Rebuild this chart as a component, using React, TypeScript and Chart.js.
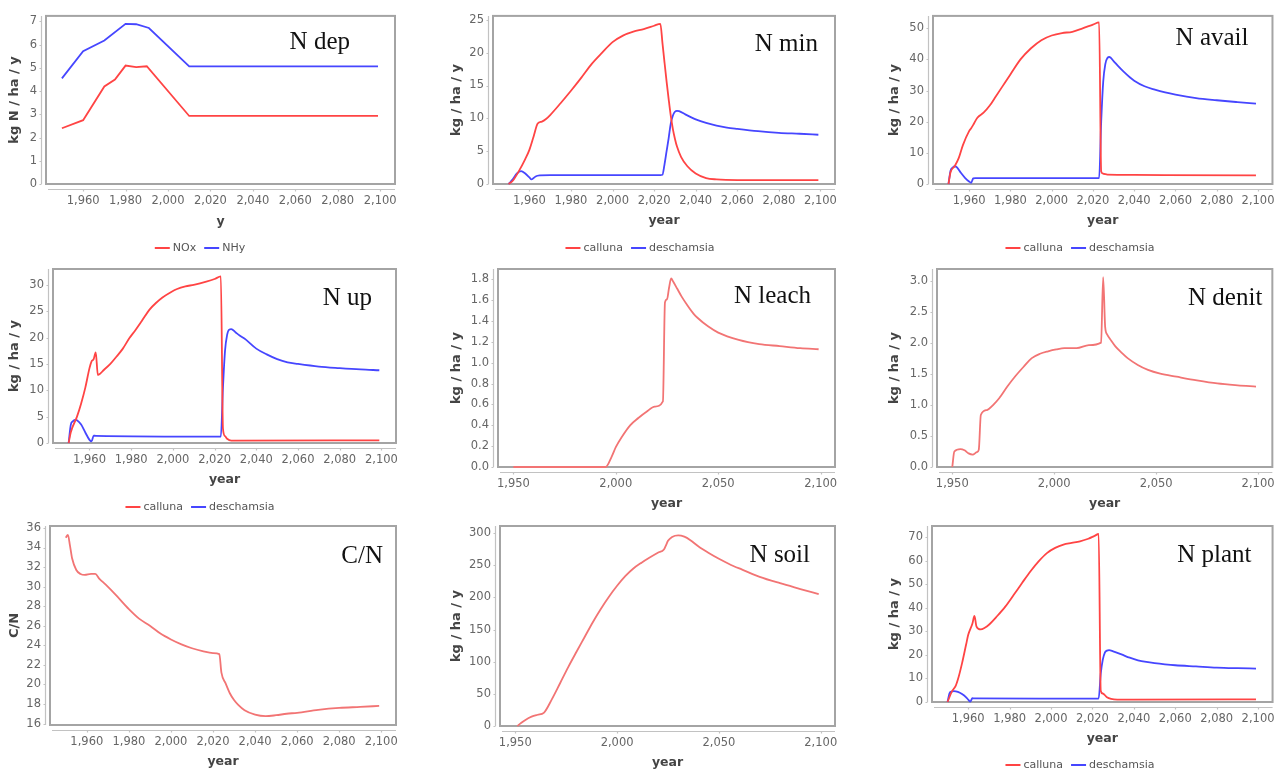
import React, { useEffect, useRef } from "react";
import { Chart, registerables } from "chart.js";
Chart.register(...registerables);

const PAGE_W = 1285;
const PAGE_H = 771;
const SANS = '"DejaVu Sans", sans-serif';
const SERIF = '"Liberation Serif", serif';
const RED = "#ff4444";
const BLUE = "#4646ff";
const PINK = "#f27474";

// ---------- tick labels ----------
const X_TICKS_20 = [1960, 1980, 2000, 2020, 2040, 2060, 2080, 2100];
const X_TICKS_50 = [1950, 2000, 2050, 2100];
const NDEP_Y_TICKS = [0, 1, 2, 3, 4, 5, 6, 7];
const NMIN_Y_TICKS = [0, 5, 10, 15, 20, 25];
const NAVAIL_Y_TICKS = [0, 10, 20, 30, 40, 50];
const NUP_Y_TICKS = [0, 5, 10, 15, 20, 25, 30];
const NLEACH_Y_TICKS = [0, 0.2, 0.4, 0.6, 0.8, 1.0, 1.2, 1.4, 1.6, 1.8];
const NDENIT_Y_TICKS = [0, 0.5, 1.0, 1.5, 2.0, 2.5, 3.0];
const CN_Y_TICKS = [16, 18, 20, 22, 24, 26, 28, 30, 32, 34, 36];
const NSOIL_Y_TICKS = [0, 50, 100, 150, 200, 250, 300];
const NPLANT_Y_TICKS = [0, 10, 20, 30, 40, 50, 60, 70];

// ---------- N dep ----------
const NOX_X = [1950, 1960, 1970, 1975, 1980, 1985, 1990, 2010, 2099];
const NOX_Y = [2.4, 2.75, 4.2, 4.5, 5.1, 5.03, 5.07, 2.93, 2.93];
const NHY_X = [1950, 1960, 1970, 1980, 1985, 1991, 2010, 2099];
const NHY_Y = [4.55, 5.72, 6.18, 6.9, 6.88, 6.72, 5.07, 5.07];

// ---------- N min ----------
const CALLUNA_MIN_X = [1950, 1952, 1955, 1958, 1960, 1962, 1964, 1966, 1968, 1970, 1975, 1980, 1985, 1990, 1995, 2000, 2005, 2010, 2015, 2020, 2023, 2024, 2025, 2026, 2027, 2028, 2029, 2030, 2031, 2033, 2036, 2040, 2045, 2050, 2060, 2099];
const CALLUNA_MIN_Y = [0, 0.5, 2.0, 3.8, 5.2, 7.2, 9.2, 9.5, 9.9, 10.5, 12.3, 14.2, 16.2, 18.3, 20.0, 21.6, 22.6, 23.2, 23.6, 24.1, 24.4, 21.5, 18.5, 15.6, 12.9, 10.4, 8.4, 6.9, 5.7, 4.1, 2.7, 1.6, 0.9, 0.7, 0.6, 0.6];
const DESCH_MIN_X = [1950, 1952, 1954, 1956, 1958, 1960, 1961, 1962, 1963, 1965, 1970, 2023, 2024, 2025, 2026, 2027, 2028, 2029, 2030, 2031, 2032, 2035, 2040, 2045, 2050, 2055, 2060, 2070, 2080, 2090, 2099];
const DESCH_MIN_Y = [0, 0.7, 1.6, 1.95, 1.6, 1.0, 0.7, 0.9, 1.15, 1.3, 1.35, 1.35, 1.4, 3.0, 5.0, 7.0, 9.2, 10.4, 11.0, 11.15, 11.1, 10.6, 9.85, 9.3, 8.9, 8.6, 8.4, 8.05, 7.8, 7.65, 7.5];

// ---------- N avail ----------
const CALLUNA_AVAIL_X = [1950, 1951, 1953, 1955, 1957, 1960, 1961, 1962, 1964, 1967, 1970, 1973, 1976, 1980, 1985, 1990, 1995, 2000, 2005, 2010, 2015, 2020, 2023, 2024, 2025, 2027, 2040, 2099];
const CALLUNA_AVAIL_Y = [0, 3.8, 5.7, 8.4, 12.5, 17.0, 17.9, 19.0, 21.3, 22.9, 25.2, 28.2, 31.2, 35.2, 40.1, 43.6, 46.2, 47.7, 48.5, 48.9, 50.0, 51.2, 51.9, 4.0, 3.3, 3.0, 2.9, 2.8];
const DESCH_AVAIL_X = [1950, 1951, 1952, 1953, 1954, 1956, 1958, 1960, 1961, 1962, 1963, 2023, 2024, 2025, 2026, 2027, 2028, 2030, 2032, 2035, 2038, 2040, 2045, 2050, 2055, 2060, 2070, 2080, 2090, 2099];
const DESCH_AVAIL_Y = [0, 4.3, 5.3, 5.7, 5.4, 3.6, 2.0, 0.8, 0.4, 1.8, 1.9, 1.9, 20, 33, 38.5, 40.5, 40.8, 39.5, 38, 36, 34.2, 33.2, 31.4, 30.3, 29.4, 28.7, 27.6, 26.9, 26.3, 25.8];

// ---------- N up ----------
const CALLUNA_UP_X = [1950, 1951, 1954, 1956, 1958, 1960, 1961, 1962, 1963, 1964, 1967, 1970, 1973, 1976, 1979, 1982, 1985, 1989, 1992, 1995, 1999, 2002, 2006, 2010, 2016, 2020, 2023, 2024, 2025, 2026, 2028, 2099];
const CALLUNA_UP_Y = [0, 2.0, 5.0, 7.5, 10.5, 14.2, 15.5, 15.9, 17.2, 12.9, 13.9, 15.0, 16.4, 17.9, 19.8, 21.4, 23.1, 25.4, 26.6, 27.6, 28.6, 29.2, 29.7, 30.0, 30.6, 31.1, 31.6, 2.8, 1.3, 0.8, 0.45, 0.5];
const DESCH_UP_X = [1950, 1951, 1952, 1953, 1954, 1956, 1958, 1960, 1961, 1962, 1963, 2023, 2024, 2025, 2026, 2027, 2028, 2030, 2032, 2035, 2040, 2045, 2050, 2055, 2060, 2070, 2080, 2090, 2099];
const DESCH_UP_Y = [0, 3.4, 4.1, 4.4, 4.3, 3.5, 2.0, 0.6, 0.3, 1.4, 1.35, 1.2, 10.4, 17.5, 20.5, 21.5, 21.6, 21.0, 20.4, 19.6, 17.9, 16.8, 15.9, 15.3, 15.0, 14.5, 14.2, 13.95, 13.8];

// ---------- N leach ----------
const LEACH_X = [1950, 1995, 1998, 2000, 2003, 2007, 2011, 2015, 2019, 2023, 2024, 2025, 2026, 2027, 2028, 2030, 2032, 2035, 2038, 2040, 2045, 2050, 2060, 2070, 2080, 2090, 2099];
const LEACH_Y = [0, 0, 0.1, 0.19, 0.29, 0.4, 0.47, 0.53, 0.58, 0.63, 1.58, 1.61, 1.72, 1.81, 1.78, 1.71, 1.64, 1.55, 1.47, 1.43, 1.35, 1.29, 1.22, 1.18, 1.16, 1.14, 1.13];

// ---------- N denit ----------
const DENIT_X = [1950, 1951, 1954, 1956, 1958, 1960, 1962, 1963, 1964, 1967, 1970, 1973, 1977, 1981, 1985, 1989, 1993, 1997, 2001, 2005, 2011, 2017, 2023, 2024, 2025, 2026, 2028, 2030, 2033, 2036, 2041, 2046, 2052, 2060, 2070, 2080, 2090, 2099];
const DENIT_Y = [0, 0.25, 0.29, 0.27, 0.22, 0.2, 0.24, 0.28, 0.84, 0.92, 1.0, 1.11, 1.3, 1.47, 1.62, 1.76, 1.83, 1.87, 1.9, 1.92, 1.92, 1.97, 2.01, 3.07, 2.26, 2.14, 2.04, 1.95, 1.85, 1.76, 1.65, 1.57, 1.51, 1.46, 1.4, 1.35, 1.32, 1.3];

// ---------- C/N ----------
const CN_X = [1950, 1951, 1952, 1953, 1955, 1957, 1959, 1962, 1964, 1966, 1969, 1974, 1980, 1985, 1990, 1995, 2000, 2005, 2010, 2015, 2020, 2023, 2024, 2026, 2028, 2030, 2032, 2035, 2040, 2045, 2050, 2055, 2060, 2070, 2080, 2090, 2099];
const CN_Y = [35.0, 35.3, 34.2, 32.9, 31.7, 31.3, 31.2, 31.3, 31.3, 30.8, 30.2, 29.1, 27.7, 26.7, 26.0, 25.2, 24.6, 24.1, 23.7, 23.4, 23.2, 23.1, 21.2, 20.1, 19.1, 18.4, 17.9, 17.35, 16.9, 16.75, 16.85, 17.0, 17.1, 17.4, 17.6, 17.7, 17.8];

// ---------- N soil ----------
const SOIL_X = [1951, 1953, 1955, 1958, 1961, 1964, 1968, 1972, 1976, 1980, 1984, 1988, 1992, 1996, 2000, 2004, 2008, 2012, 2016, 2020, 2023, 2024, 2025, 2027, 2030, 2033, 2036, 2040, 2045, 2050, 2055, 2060, 2070, 2080, 2090, 2099];
const SOIL_Y = [0, 5, 9.5, 14.5, 17.5, 20.5, 41.8, 66.5, 91.5, 115, 138, 161, 182, 201, 218, 233, 245, 254, 262, 269.5, 274.5, 281, 288, 294, 296.5, 294.5, 289, 279, 269, 260, 252, 245, 232, 222, 213, 205];

// ---------- N plant ----------
const CALLUNA_PLANT_X = [1950, 1952, 1954, 1955, 1957, 1959, 1960, 1962, 1963, 1964, 1966, 1968, 1970, 1974, 1978, 1982, 1986, 1990, 1994, 1998, 2002, 2006, 2010, 2014, 2018, 2021, 2023, 2024, 2025, 2027, 2029, 2032, 2099];
const CALLUNA_PLANT_Y = [0, 4.3, 7.0, 9.5, 16.4, 24.5, 28.5, 33.2, 36.5, 32.0, 30.8, 31.5, 32.8, 36.5, 40.6, 45.5, 50.5, 55.4, 59.7, 63.2, 65.4, 66.8, 67.5, 68.2, 69.3, 70.5, 71.3, 4.8, 3.6, 2.0, 1.3, 1.0, 1.1];
const DESCH_PLANT_X = [1950, 1951, 1952, 1953, 1955, 1957, 1959, 1960, 1961, 1962, 1963, 2023, 2024, 2025, 2026, 2027, 2028, 2030, 2034, 2038, 2042, 2046, 2050, 2055, 2060, 2070, 2080, 2090, 2099];
const DESCH_PLANT_Y = [0, 3.8, 4.4, 4.6, 4.3, 3.4, 2.0, 1.0, 0.2, 1.6, 1.5, 1.45, 12, 18, 21, 21.8, 22.0, 21.5, 20.2, 18.8, 17.7, 17.0, 16.5, 16.0, 15.6, 15.1, 14.6, 14.35, 14.2];

// ---------- panel layout ----------
type Series = { label: string; xs: number[]; ys: number[]; color: string };
type Panel = {
  id: string;
  title: string;
  box: [number, number, number, number];
  yw: number;
  xh: number;
  yMin: number;
  yMax: number;
  yTicks: number[];
  yDec: number;
  xTicks: number[];
  xTitle: string;
  yTitle: string;
  smooth: boolean;
  series: Series[];
  legend: [number, number] | null;
  titleRight: number;
  titleBase: number;
};

const X_MIN = 1942.5;
const X_MAX = 2107;

const PANELS: Panel[] = [
  {
    id: "ndep", title: "N dep", box: [46, 10, 395, 184], yw: 39, xh: 45,
    yMin: 0, yMax: 7.24, yTicks: NDEP_Y_TICKS, yDec: 0, xTicks: X_TICKS_20,
    xTitle: "y", yTitle: "kg N / ha / y", smooth: false,
    series: [
      { label: "NOx", xs: NOX_X, ys: NOX_Y, color: RED },
      { label: "NHy", xs: NHY_X, ys: NHY_Y, color: BLUE },
    ],
    legend: [200, 248], titleRight: 45, titleBase: 33,
  },
  {
    id: "nmin", title: "N min", box: [493, 12, 835, 184], yw: 44, xh: 44,
    yMin: 0, yMax: 25.6, yTicks: NMIN_Y_TICKS, yDec: 0, xTicks: X_TICKS_20,
    xTitle: "year", yTitle: "kg / ha / y", smooth: true,
    series: [
      { label: "calluna", xs: CALLUNA_MIN_X, ys: CALLUNA_MIN_Y, color: RED },
      { label: "deschamsia", xs: DESCH_MIN_X, ys: DESCH_MIN_Y, color: BLUE },
    ],
    legend: [640, 248], titleRight: 17, titleBase: 35,
  },
  {
    id: "navail", title: "N avail", box: [933, 12, 1273, 184], yw: 46, xh: 44,
    yMin: 0, yMax: 54, yTicks: NAVAIL_Y_TICKS, yDec: 0, xTicks: X_TICKS_20,
    xTitle: "year", yTitle: "kg / ha / y", smooth: true,
    series: [
      { label: "calluna", xs: CALLUNA_AVAIL_X, ys: CALLUNA_AVAIL_Y, color: RED },
      { label: "deschamsia", xs: DESCH_AVAIL_X, ys: DESCH_AVAIL_Y, color: BLUE },
    ],
    legend: [1080, 248], titleRight: 24, titleBase: 29,
  },
  {
    id: "nup", title: "N up", box: [53, 269, 396, 443], yw: 46, xh: 44,
    yMin: 0, yMax: 33, yTicks: NUP_Y_TICKS, yDec: 0, xTicks: X_TICKS_20,
    xTitle: "year", yTitle: "kg / ha / y", smooth: true,
    series: [
      { label: "calluna", xs: CALLUNA_UP_X, ys: CALLUNA_UP_Y, color: RED },
      { label: "deschamsia", xs: DESCH_UP_X, ys: DESCH_UP_Y, color: BLUE },
    ],
    legend: [200, 507], titleRight: 24, titleBase: 36,
  },
  {
    id: "nleach", title: "N leach", box: [498, 269, 835, 467], yw: 49, xh: 44,
    yMin: 0, yMax: 1.9, yTicks: NLEACH_Y_TICKS, yDec: 1, xTicks: X_TICKS_50,
    xTitle: "year", yTitle: "kg / ha / y", smooth: true,
    series: [{ label: "calluna", xs: LEACH_X, ys: LEACH_Y, color: PINK }],
    legend: null, titleRight: 24, titleBase: 34,
  },
  {
    id: "ndenit", title: "N denit", box: [937, 269, 1274, 467], yw: 50, xh: 44,
    yMin: 0, yMax: 3.2, yTicks: NDENIT_Y_TICKS, yDec: 1, xTicks: X_TICKS_50,
    xTitle: "year", yTitle: "kg / ha / y", smooth: true,
    series: [{ label: "calluna", xs: DENIT_X, ys: DENIT_Y, color: PINK }],
    legend: null, titleRight: 10, titleBase: 36,
  },
  {
    id: "cn", title: "C/N", box: [50, 526, 396, 725], yw: 43, xh: 44,
    yMin: 15.85, yMax: 36.2, yTicks: CN_Y_TICKS, yDec: 0, xTicks: X_TICKS_20,
    xTitle: "year", yTitle: "C/N", smooth: true,
    series: [{ label: "calluna", xs: CN_X, ys: CN_Y, color: PINK }],
    legend: null, titleRight: 13, titleBase: 37,
  },
  {
    id: "nsoil", title: "N soil", box: [500, 526, 835, 726], yw: 51, xh: 44,
    yMin: 0, yMax: 311, yTicks: NSOIL_Y_TICKS, yDec: 0, xTicks: X_TICKS_50,
    xTitle: "year", yTitle: "kg / ha / y", smooth: true,
    series: [{ label: "calluna", xs: SOIL_X, ys: SOIL_Y, color: PINK }],
    legend: null, titleRight: 25, titleBase: 36,
  },
  {
    id: "nplant", title: "N plant", box: [932, 526, 1274, 702], yw: 45, xh: 44,
    yMin: 0, yMax: 74.7, yTicks: NPLANT_Y_TICKS, yDec: 0, xTicks: X_TICKS_20,
    xTitle: "year", yTitle: "kg / ha / y", smooth: true,
    series: [
      { label: "calluna", xs: CALLUNA_PLANT_X, ys: CALLUNA_PLANT_Y, color: RED },
      { label: "deschamsia", xs: DESCH_PLANT_X, ys: DESCH_PLANT_Y, color: BLUE },
    ],
    legend: [1080, 765], titleRight: 21, titleBase: 36,
  },
];

const fmt = (v: number, d: number) =>
  Number(v).toLocaleString("en-US", { minimumFractionDigits: d, maximumFractionDigits: d });

const framePlugin = {
  id: "frame",
  beforeDatasetsDraw(chart: any) {
    const { ctx, chartArea: a } = chart;
    ctx.save();
    ctx.strokeStyle = "#a4a4a4";
    ctx.lineWidth = 2;
    ctx.strokeRect(a.left, a.top, a.right - a.left, a.bottom - a.top);
    ctx.strokeStyle = "#c2c2c2";
    ctx.lineWidth = 1.2;
    ctx.beginPath();
    const ax = a.left - 4.5;
    const ay = a.bottom + 5.5;
    ctx.moveTo(ax, a.top);
    ctx.lineTo(ax, a.bottom);
    ctx.moveTo(a.left + 2, ay);
    ctx.lineTo(a.right, ay);
    const xs = chart.scales.x;
    const ys = chart.scales.y;
    xs.ticks.forEach((t: any) => {
      const px = Math.round(xs.getPixelForValue(t.value)) + 0.5;
      ctx.moveTo(px, ay);
      ctx.lineTo(px, ay + 2);
    });
    ys.ticks.forEach((t: any) => {
      const py = Math.round(ys.getPixelForValue(t.value)) + 0.5;
      ctx.moveTo(ax, py);
      ctx.lineTo(ax - 2, py);
    });
    ctx.stroke();
    ctx.restore();
  },
  afterDraw(chart: any, _args: any, opts: any) {
    const { ctx, chartArea: a } = chart;
    ctx.save();
    ctx.font = `25px ${SERIF}`;
    ctx.fillStyle = "#111";
    ctx.textAlign = "right";
    ctx.textBaseline = "alphabetic";
    ctx.fillText(opts.title, a.right - opts.titleRight, a.top + opts.titleBase);
    if (opts.legend) {
      const [cx, cy] = opts.legend;
      ctx.font = `11px ${SANS}`;
      const items = chart.data.datasets.map((d: any) => ({
        label: d.label,
        color: d.borderColor,
        w: ctx.measureText(d.label).width,
      }));
      const lineW = 15, gap1 = 3, gap2 = 8;
      const total = items.reduce((s: number, it: any) => s + lineW + gap1 + it.w, 0) + gap2 * (items.length - 1);
      let x = cx - total / 2;
      ctx.textAlign = "left";
      ctx.textBaseline = "middle";
      items.forEach((it: any) => {
        ctx.strokeStyle = it.color;
        ctx.lineWidth = 2;
        ctx.beginPath();
        ctx.moveTo(x, cy);
        ctx.lineTo(x + lineW, cy);
        ctx.stroke();
        x += lineW + gap1;
        ctx.fillStyle = "#555";
        ctx.fillText(it.label, x, cy);
        x += it.w + gap2;
      });
    }
    ctx.restore();
  },
};

function PanelChart({ p }: { p: Panel }) {
  const ref = useRef<HTMLCanvasElement>(null);
  useEffect(() => {
    const [l, t, r, b] = p.box;
    const chart = new Chart(ref.current as HTMLCanvasElement, {
      type: "line",
      data: {
        datasets: p.series.map((s) => ({
          label: s.label,
          data: s.xs.map((x, i) => ({ x, y: s.ys[i] })),
          borderColor: s.color,
          backgroundColor: s.color,
          borderWidth: 1.8,
          pointRadius: 0,
          fill: false,
          tension: p.smooth ? 0.4 : 0,
          cubicInterpolationMode: p.smooth ? "monotone" : "default",
          clip: 4,
        })),
      },
      options: {
        responsive: false,
        animation: false,
        events: [],
        layout: {
          padding: { left: l - p.yw, top: t, right: PAGE_W - r, bottom: PAGE_H - b - p.xh },
        },
        plugins: {
          legend: { display: false },
          tooltip: { enabled: false },
          frame: {
            title: p.title,
            titleRight: p.titleRight,
            titleBase: p.titleBase,
            legend: p.legend,
          },
        } as any,
        scales: {
          x: {
            type: "linear",
            min: X_MIN,
            max: X_MAX,
            afterBuildTicks: (scale: any) => {
              scale.ticks = p.xTicks.map((v) => ({ value: v }));
            },
            afterFit: (scale: any) => {
              scale.height = p.xh;
            },
            ticks: {
              callback: (v: any) => fmt(v, 0),
              color: "#666",
              font: { family: SANS, size: 11.5 },
              padding: 10,
              maxRotation: 0,
              autoSkip: false,
            },
            grid: { display: false, drawTicks: false },
            border: { display: false },
            title: {
              display: true,
              text: p.xTitle,
              color: "#444",
              font: { family: SANS, size: 12.5, weight: "bold" },
              padding: 0,
            },
          },
          y: {
            type: "linear",
            min: p.yMin,
            max: p.yMax,
            afterBuildTicks: (scale: any) => {
              scale.ticks = p.yTicks.map((v) => ({ value: v }));
            },
            afterFit: (scale: any) => {
              scale.width = p.yw;
            },
            ticks: {
              callback: (v: any) => fmt(v, p.yDec),
              color: "#666",
              font: { family: SANS, size: 11.5 },
              padding: 9,
              autoSkip: false,
            },
            grid: { display: false, drawTicks: false },
            border: { display: false },
            title: {
              display: true,
              text: p.yTitle,
              color: "#444",
              font: { family: SANS, size: 13, weight: "bold" },
              padding: 0,
            },
          },
        } as any,
      },
      plugins: [framePlugin as any],
    } as any);
    return () => chart.destroy();
  }, [p]);
  return (
    <canvas
      ref={ref}
      width={PAGE_W}
      height={PAGE_H}
      style={{ position: "absolute", left: 0, top: 0, width: PAGE_W, height: PAGE_H }}
    />
  );
}

export default function App() {
  return (
    <div
      style={{
        position: "absolute",
        left: 0,
        top: 0,
        width: PAGE_W,
        height: PAGE_H,
        background: "#fff",
        overflow: "hidden",
      }}
    >
      {PANELS.map((p) => (
        <PanelChart key={p.id} p={p} />
      ))}
    </div>
  );
}
